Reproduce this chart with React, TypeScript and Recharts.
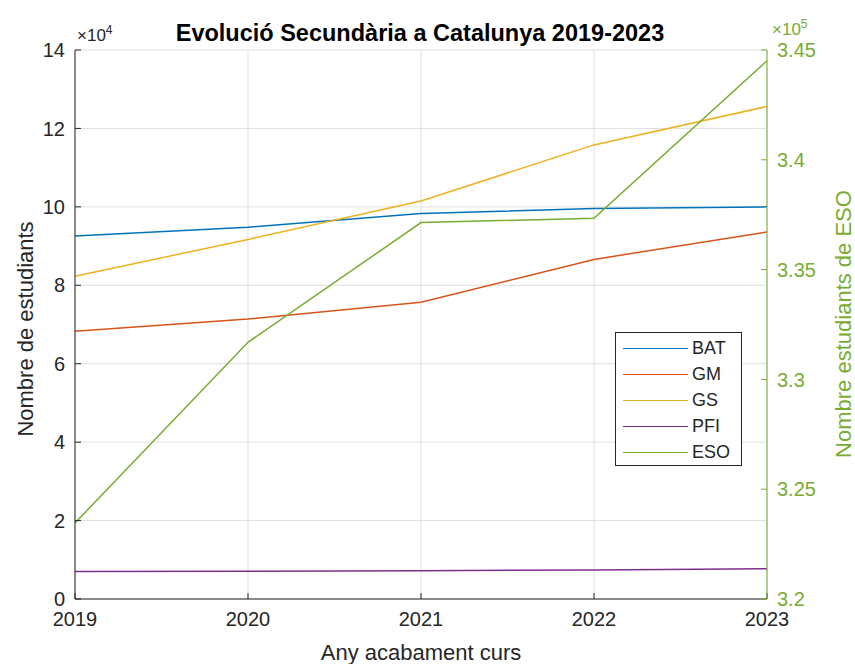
import { LineChart, Line, XAxis, YAxis, CartesianGrid } from "recharts";

const years = [2019, 2020, 2021, 2022, 2023];
const bat = [92600, 94800, 98300, 99600, 100000];
const gm = [68300, 71400, 75700, 86600, 93600];
const gs = [82300, 91700, 101500, 115800, 125600];
const pfi = [7000, 7100, 7200, 7400, 7700];
const eso = [323460, 331690, 337140, 337340, 344510];

const leftTicks = [0, 20000, 40000, 60000, 80000, 100000, 120000, 140000];
const rightTicks = [320000, 325000, 330000, 335000, 340000, 345000];

const series = [
  { key: "BAT", color: "#0072BD", axis: "left" },
  { key: "GM", color: "#D95319", axis: "left" },
  { key: "GS", color: "#EDB120", axis: "left" },
  { key: "PFI", color: "#7E2F8E", axis: "left" },
  { key: "ESO", color: "#77AC30", axis: "right" },
];

const data = years.map((y, i) => ({
  year: y, BAT: bat[i], GM: gm[i], GS: gs[i], PFI: pfi[i], ESO: eso[i],
}));

const FONT = "'Liberation Sans', Arial, Helvetica, sans-serif";
const INK = "#262626";
const GREEN = "#77AC30";

// legend drawn as an overlay so it doesn't eat into the plot area
const LegendBox = () => (
  <div style={{
    position: "absolute", left: 615, top: 332, width: 125, height: 132,
    border: `1px solid ${INK}`, background: "#fff",
    fontFamily: FONT, fontSize: 18, color: INK,
  }}>
    {series.map((s, i) => (
      <div key={s.key} style={{ position: "absolute", left: 7, top: 15 + i * 26 - 11, height: 22, display: "flex", alignItems: "center" }}>
        <div style={{ width: 65, height: 0, borderTop: `1.5px solid ${s.color}` }} />
        <span style={{ marginLeft: 4, lineHeight: "22px" }}>{s.key}</span>
      </div>
    ))}
  </div>
);

export default function App() {
  return (
    <div style={{ position: "absolute", left: 0, top: 0, width: 855, height: 664, background: "#fff" }}>
      <LineChart width={855} height={664} data={data} margin={{ top: 50, right: 0, bottom: 0, left: 0 }}>
        <CartesianGrid yAxisId="left" stroke="#dfdfdf" strokeWidth={1} />
        <XAxis dataKey="year" type="number" domain={[2019, 2023]} ticks={years} height={65}
          stroke={INK} tickSize={-6} tickMargin={19}
          tick={{ fontSize: 20, fill: INK, fontFamily: FONT }} />
        <YAxis yAxisId="left" domain={[0, 140000]} ticks={leftTicks} width={75}
          stroke={INK} tickSize={-6} tickMargin={16} allowDataOverflow
          tickFormatter={(v: number) => String(v / 10000)}
          tick={{ fontSize: 20, fill: INK, fontFamily: FONT }} />
        <YAxis yAxisId="right" orientation="right" domain={[320000, 345000]} ticks={rightTicks} width={88}
          stroke={GREEN} tickSize={-6} tickMargin={16} allowDataOverflow
          tickFormatter={(v: number) => String(parseFloat((v / 100000).toFixed(2)))}
          tick={{ fontSize: 20, fill: GREEN, fontFamily: FONT }} />
        {series.map(s => (
          <Line key={s.key} yAxisId={s.axis} dataKey={s.key} name={s.key} stroke={s.color}
            strokeWidth={1.5} dot={false} isAnimationActive={false} />
        ))}
      </LineChart>
      <LegendBox />
      <svg width={855} height={664} style={{ position: "absolute", left: 0, top: 0, pointerEvents: "none" }}
        fontFamily={FONT}>
        <text x={420} y={41} textAnchor="middle" fontSize={23.5} fontWeight="bold" fill="#000">
          Evolució Secundària a Catalunya 2019-2023
        </text>
        <text x={77} y={41} fontSize={17} fill={INK}>
          ×10<tspan fontSize={12} dy={-7}>4</tspan>
        </text>
        <text x={772} y={35} fontSize={17} fill={GREEN}>
          ×10<tspan fontSize={12} dy={-7}>5</tspan>
        </text>
        <text transform="translate(33,329) rotate(-90)" textAnchor="middle" fontSize={22} fill={INK}>
          Nombre de estudiants
        </text>
        <text transform="translate(851,324) rotate(-90)" textAnchor="middle" fontSize={22} fill={GREEN}>
          Nombre estudiants de ESO
        </text>
        <text x={421} y={660} textAnchor="middle" fontSize={22} fill={INK}>
          Any acabament curs
        </text>
      </svg>
    </div>
  );
}
